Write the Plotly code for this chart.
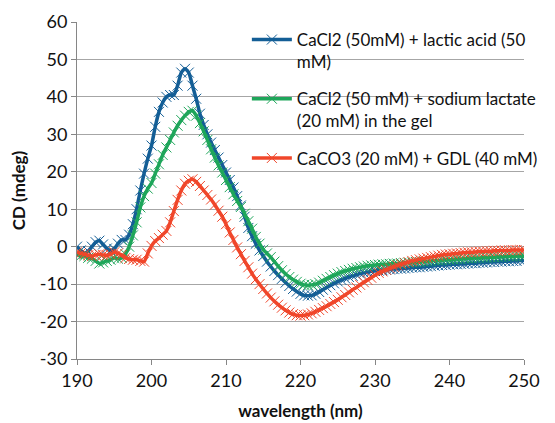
import numpy as np
import plotly.graph_objects as go

# wavelength grid, 0.5 nm steps from 190 to 250 nm
wavelength = np.arange(190, 250.5, 0.5)

cd_lactic_acid = [
    0.0, -1.0, -1.8, -1.2, 0.0, 1.2, 1.6, 0.6, -0.5, -1.0,
    -0.6, 0.8, 1.8, 1.8, 3.2, 6.0, 10.0, 15.0, 19.5, 23.5,
    27.0, 32.0, 36.0, 38.5, 40.0, 40.5, 40.5, 43.0, 46.5, 47.5,
    46.5, 43.0, 39.5, 35.5, 32.5, 30.0, 27.8, 25.8, 23.8, 21.8,
    19.8, 17.8, 15.8, 13.5, 11.0, 8.0, 5.0, 2.8, 0.8, -1.0,
    -2.5, -4.0, -5.3, -6.5, -7.6, -8.6, -9.6, -10.5, -11.3, -12.0,
    -12.6, -13.0, -13.1, -13.0, -12.6, -12.1, -11.5, -10.9, -10.3, -9.8,
    -9.3, -8.9, -8.5, -8.1, -7.8, -7.5, -7.2, -7.0, -6.8, -6.6,
    -6.5, -6.4, -6.3, -6.2, -6.1, -6.0, -5.9, -5.9, -5.8, -5.7,
    -5.6, -5.5, -5.5, -5.4, -5.3, -5.2, -5.1, -5.0, -4.9, -4.9,
    -4.8, -4.7, -4.7, -4.6, -4.6, -4.5, -4.4, -4.4, -4.3, -4.3,
    -4.2, -4.1, -4.1, -4.0, -4.0, -3.9, -3.9, -3.8, -3.8, -3.7,
    -3.7,
]

cd_sodium_lactate = [
    -2.0, -2.5, -2.5, -3.0, -3.2, -3.8, -4.5, -4.2, -3.8, -3.5,
    -3.0, -3.2, -3.0, -2.0, 0.0, 3.0, 6.5, 10.5, 13.5, 15.5,
    17.0, 19.5, 22.0, 24.5, 26.5, 28.5, 30.5, 32.3, 33.8, 35.0,
    36.0, 36.3, 35.0, 33.0, 30.8, 28.5, 26.0, 23.8, 21.7, 19.8,
    17.8, 15.9, 14.0, 12.2, 10.6, 8.8, 6.8, 4.8, 2.6, 0.8,
    -0.8, -1.8, -2.8, -4.0, -5.2, -6.3, -7.3, -8.1, -8.8, -9.4,
    -9.9, -10.2, -10.3, -10.2, -10.0, -9.6, -9.1, -8.6, -8.1, -7.6,
    -7.2, -6.8, -6.5, -6.2, -5.9, -5.7, -5.5, -5.3, -5.1, -5.0,
    -4.9, -4.8, -4.7, -4.7, -4.6, -4.5, -4.5, -4.4, -4.3, -4.3,
    -4.2, -4.1, -4.1, -4.0, -3.9, -3.8, -3.7, -3.7, -3.6, -3.5,
    -3.5, -3.4, -3.3, -3.3, -3.2, -3.1, -3.1, -3.0, -3.0, -2.9,
    -2.9, -2.8, -2.8, -2.7, -2.7, -2.6, -2.6, -2.6, -2.5, -2.5,
    -2.5,
]

cd_caco3_gdl = [
    -1.5, -1.8, -2.0, -2.3, -2.5, -2.2, -2.0, -2.2, -2.3, -2.0,
    -1.5, -1.8, -2.2, -3.0, -3.3, -3.5, -3.5, -3.8, -4.0, -1.8,
    0.2, 1.5, 2.3, 3.2, 4.2, 6.5, 9.5, 12.5, 15.0, 16.8,
    17.6, 18.0, 17.3, 16.2, 15.0, 13.8, 12.6, 11.2, 9.6, 8.0,
    6.0, 3.8, 1.8, -0.2, -2.0, -3.8, -5.5, -7.2, -8.7, -10.0,
    -11.3, -12.5, -13.6, -14.6, -15.5, -16.3, -17.0, -17.6, -18.0, -18.3,
    -18.4, -18.3, -18.1, -17.8, -17.4, -16.9, -16.4, -15.9, -15.3, -14.8,
    -14.2, -13.5, -12.9, -12.2, -11.5, -10.9, -10.2, -9.5, -8.9, -8.3,
    -7.6, -7.0, -6.6, -6.2, -5.8, -5.4, -5.0, -4.7, -4.4, -4.1,
    -3.8, -3.6, -3.4, -3.2, -3.0, -2.8, -2.6, -2.4, -2.2, -2.1,
    -2.0, -1.9, -1.8, -1.7, -1.6, -1.5, -1.5, -1.4, -1.3, -1.3,
    -1.2, -1.2, -1.1, -1.1, -1.0, -1.0, -1.0, -0.9, -0.9, -0.9,
    -0.9,
]

y_ticks = [-30, -20, -10, 0, 10, 20, 30, 40, 50, 60]
y_tick_labels = ["-30", "-20", "-10", "0", "10", "20", "30", "40", "50", "60"]

series = [
    ("CaCl2 (50mM) + lactic acid (50<br>mM)", cd_lactic_acid, "#135e96"),
    ("CaCl2 (50 mM) + sodium lactate<br>(20 mM) in the gel", cd_sodium_lactate, "#1ea65a"),
    ("CaCO3 (20 mM) + GDL (40 mM)", cd_caco3_gdl, "#f0462a"),
]

fig = go.Figure()
for i, (name, values, color) in enumerate(series):
    fig.add_trace(go.Scatter(
        x=wavelength, y=values, name=name,
        mode="lines+markers",
        line=dict(color=color, width=3.5, shape="spline", smoothing=0.6),
        marker=dict(symbol="x-thin", size=10, line=dict(width=1, color=color)),
        legendgroup=f"g{i}",
    ))

# the page body has an 8px margin, so the figure is shrunk by that much
axis_font = dict(family="Lato", size=18, color="#111111")
fig.update_layout(
    width=547, height=415,
    margin=dict(l=69, r=15, t=14, b=64),
    paper_bgcolor="white", plot_bgcolor="white",
    font=dict(family="Lato", size=17, color="#111111"),
    legend=dict(
        x=0.38, y=1.0, xanchor="left", yanchor="top",
        bgcolor="rgba(0,0,0,0)", valign="top",
        tracegroupgap=12, itemwidth=40,
        font=dict(family="Lato", size=17, color="#111111"),
    ),
    xaxis=dict(
        range=[190, 250], dtick=10, showgrid=False, automargin=False,
        showline=True, linecolor="#868686", linewidth=1,
        ticks="outside", ticklen=5, tickcolor="#868686",
        tickfont=axis_font, zeroline=False,
        title=dict(text="<b>wavelength (nm)</b>", font=dict(family="Lato", size=17)),
    ),
    yaxis=dict(
        range=[-30, 60], tickvals=y_ticks, ticktext=y_tick_labels, automargin=False,
        showgrid=True, gridcolor="#a6a6a6", gridwidth=1,
        showline=True, linecolor="#868686", linewidth=1,
        ticks="outside", ticklen=5, tickcolor="#868686",
        tickfont=axis_font, zeroline=False,
        title=dict(text="<b>CD (mdeg)</b>", font=dict(family="Lato", size=17)),
    ),
)

fig.write_html("out.html")
